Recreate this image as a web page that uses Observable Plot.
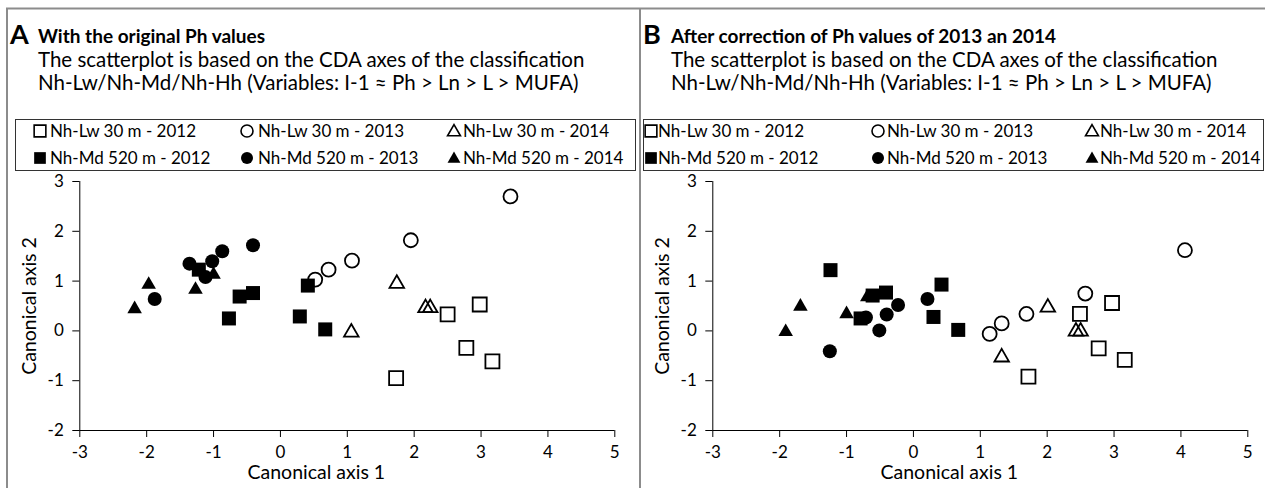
<!DOCTYPE html>
<html>
<head>
<meta charset="utf-8">
<script src="https://cdn.jsdelivr.net/npm/d3@7"></script>
<script src="https://cdn.jsdelivr.net/npm/@observablehq/plot@0.6"></script>
<style>
  body { margin: 0; background: #fff; }
  #fig { position: relative; width: 1265px; height: 488px; overflow: hidden; background: #fff; font-family: Lato, "Liberation Sans", sans-serif; }
  #fig > svg.frame { position: absolute; top: 0; left: 0; }
  #fig > svg.scatter { position: absolute; top: 172px; }
</style>
</head>
<body>
<div id="fig"></div>
<script>
// ---- axes ----
const xTicks = [-3, -2, -1, 0, 1, 2, 3, 4, 5];
const yTicks = [-2, -1, 0, 1, 2, 3];
const xTitle = "Canonical axis 1";
const yTitle = "Canonical axis 2";

// ---- series ----
const seriesLabels = [
  "Nh-Lw 30 m - 2012", "Nh-Lw 30 m - 2013", "Nh-Lw 30 m - 2014",
  "Nh-Md 520 m - 2012", "Nh-Md 520 m - 2013", "Nh-Md 520 m - 2014"
];
const seriesShapes = ["square", "circle", "triangle", "square", "circle", "triangle"];
const seriesFilled = [false, false, false, true, true, true];

// ---- panel A: original Ph values, [axis 1, axis 2] ----
const origLw2012 = [[1.73, -0.95], [2.50, 0.33], [2.78, -0.34], [2.98, 0.53], [3.17, -0.61]];
const origLw2013 = [[0.52, 1.03], [0.72, 1.23], [1.07, 1.41], [1.95, 1.82], [3.44, 2.70]];
const origLw2014 = [[1.06, -0.03], [1.74, 0.95], [2.17, 0.46], [2.24, 0.46]];
const origMd2012 = [[-1.22, 1.23], [-0.77, 0.25], [-0.61, 0.69], [-0.41, 0.76], [0.29, 0.29], [0.41, 0.91], [0.67, 0.03]];
const origMd2013 = [[-1.88, 0.64], [-1.36, 1.35], [-1.12, 1.08], [-1.02, 1.40], [-0.87, 1.60], [-0.41, 1.72]];
const origMd2014 = [[-2.18, 0.44], [-1.97, 0.93], [-1.27, 0.83], [-1.00, 1.13]];

// ---- panel B: Ph values of 2013 and 2014 corrected ----
const corrLw2012 = [[1.72, -0.92], [2.49, 0.34], [2.77, -0.35], [2.97, 0.56], [3.16, -0.58]];
const corrLw2013 = [[1.14, -0.06], [1.32, 0.15], [1.69, 0.34], [2.57, 0.75], [4.06, 1.62]];
const corrLw2014 = [[1.32, -0.53], [2.01, 0.47], [2.43, -0.01], [2.50, -0.01]];
const corrMd2012 = [[-1.24, 1.22], [-0.79, 0.25], [-0.61, 0.71], [-0.41, 0.77], [0.30, 0.28], [0.42, 0.93], [0.67, 0.02]];
const corrMd2013 = [[-1.25, -0.41], [-0.71, 0.27], [-0.51, 0.01], [-0.40, 0.33], [-0.23, 0.52], [0.21, 0.64]];
const corrMd2014 = [[-1.91, -0.02], [-1.69, 0.49], [-1.00, 0.34], [-0.69, 0.68]];

const subtitleLine1 = "The scatterplot is based on the CDA axes of the classification";
const subtitleLine2 = "Nh-Lw/Nh-Md/Nh-Hh (Variables: I-1 \u2248 Ph > Ln > L > MUFA)";

const panels = [
  { letter: "A", title: "With the original Ph values",
    series: [origLw2012, origLw2013, origLw2014, origMd2012, origMd2013, origMd2014],
    left: 7, legendLeft: 15, symX: [25, 232, 439], textX: [35, 243, 448] },
  { letter: "B", title: "After correction of Ph values of 2013 an 2014",
    series: [corrLw2012, corrLw2013, corrLw2014, corrMd2012, corrMd2013, corrMd2014],
    left: 640, legendLeft: 643, symX: [8, 235, 449], textX: [15, 244, 457] }
];

// marker radius per shape so that squares, circles and triangles look the same size
const markerR = { square: 7.9, circle: 7, triangle: 5.4 };
const legendR = { square: 6.6, circle: 6, triangle: 4.8 };
const INK = "#000";
const FONT = "Lato, 'Liberation Sans', sans-serif";

const fig = d3.select("#fig");
const W = 1265, H = 488;

// ---- frame, headings and legends ----
const svg = fig.append("svg").attr("class", "frame").attr("width", W).attr("height", H);
svg.append("line").attr("x1", 6).attr("x2", W).attr("y1", 8.5).attr("y2", 8.5)
  .attr("stroke", "#8c8c8c").attr("stroke-width", 2);
for (const p of panels) {
  svg.append("line").attr("x1", p.left).attr("x2", p.left).attr("y1", 8).attr("y2", H)
    .attr("stroke", "#8c8c8c").attr("stroke-width", 2);
}

for (const p of panels) {
  const g = svg.append("g").attr("font-family", FONT).attr("fill", INK);
  g.append("text").attr("x", p.left + 3).attr("y", 44)
    .attr("font-size", 27).attr("font-weight", 700).text(p.letter);
  g.append("text").attr("x", p.left + 31).attr("y", 43)
    .attr("font-size", 19).attr("font-weight", 700).text(p.title);
  g.append("text").attr("x", p.left + 31).attr("y", 67)
    .attr("font-size", 20.5).text(subtitleLine1);
  g.append("text").attr("x", p.left + 31).attr("y", 90)
    .attr("font-size", 20.5).text(subtitleLine2);

  // legend box
  const lg = svg.append("g").attr("font-family", FONT);
  lg.append("rect").attr("x", p.legendLeft + 0.5).attr("y", 119.5)
    .attr("width", 620).attr("height", 51)
    .attr("fill", "#fff").attr("stroke", "#333").attr("stroke-width", 1);
  const rowY = [131, 158];
  seriesLabels.forEach((label, i) => {
    const col = i % 3, row = Math.floor(i / 3);
    const shape = seriesShapes[i];
    const sym = { square: d3.symbolSquare, circle: d3.symbolCircle, triangle: d3.symbolTriangle }[shape];
    const r = legendR[shape];
    lg.append("path")
      .attr("transform", `translate(${p.legendLeft + p.symX[col]},${rowY[row] + (shape === "triangle" ? 1 : 0)})`)
      .attr("d", d3.symbol(sym, Math.PI * r * r)())
      .attr("fill", seriesFilled[i] ? INK : "none")
      .attr("stroke", seriesFilled[i] ? "none" : INK)
      .attr("stroke-width", 1.6);
    lg.append("text")
      .attr("x", p.legendLeft + p.textX[col]).attr("y", rowY[row] + 6)
      .attr("font-size", 17).attr("fill", INK).text(label);
  });
}

// ---- scatterplots ----
function scatter(series) {
  const marks = [
    Plot.ruleY([-2], { x1: -3, x2: 5, stroke: INK }),
    Plot.ruleX([-3], { y1: -2, y2: 3, stroke: INK }),
    Plot.axisX(xTicks, { tickSize: 7, tickPadding: 8, tickFormat: d => String(d), stroke: INK, label: null }),
    Plot.axisY(yTicks, { tickSize: 7, tickPadding: 9, tickFormat: d => String(d), stroke: INK, label: null }),
    Plot.text([xTitle], { text: d => d, frameAnchor: "bottom", textAnchor: "middle", lineAnchor: "middle", dx: -31, dy: 42, fontSize: 19.5, fill: INK }),
    Plot.text([yTitle], { text: d => d, frameAnchor: "left", textAnchor: "middle", lineAnchor: "middle", rotate: -90, dx: -50, fontSize: 19.5, fill: INK })
  ];
  series.forEach((pts, i) => {
    const shape = seriesShapes[i];
    const filled = seriesFilled[i];
    marks.push(Plot.dot(pts, {
      x: d => d[0], y: d => d[1],
      symbol: shape, r: markerR[shape],
      fill: filled ? INK : "none",
      stroke: filled ? "none" : INK,
      strokeWidth: 1.8
    }));
  });
  return Plot.plot({
    width: 632, height: 316,
    marginLeft: 71.3, marginRight: 25.7, marginTop: 9, marginBottom: 58,
    x: { domain: [-3, 5] },
    y: { domain: [-2, 3] },
    style: { fontFamily: FONT, fontSize: "17px", color: INK, background: "transparent", overflow: "visible" },
    marks
  });
}

panels.forEach(p => {
  const chart = scatter(p.series);
  chart.classList.add("scatter");
  chart.style.left = (p.left + 1) + "px";
  chart.style.top = "172px";
  chart.style.position = "absolute";
  fig.node().appendChild(chart);
});
</script>
</body>
</html>
